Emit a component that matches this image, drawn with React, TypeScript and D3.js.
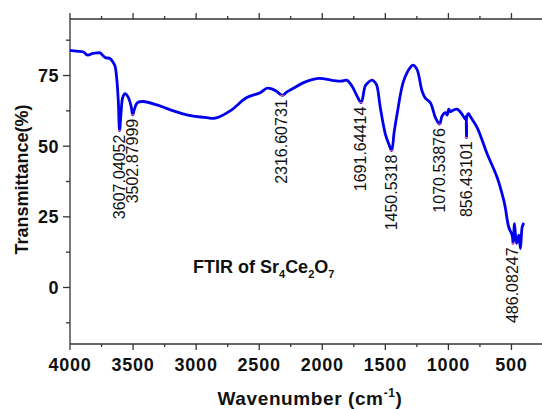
import { useMemo } from 'react';
import * as d3 from 'd3';

// spectrum (wavenumber cm-1, transmittance %)
const wavenumbers = [
  4000, 3950, 3897, 3860, 3820, 3786, 3762, 3722, 3683, 3660, 3643, 3630, 3617, 3607, 3595,
  3582, 3563, 3537, 3515, 3503, 3490, 3465, 3418, 3312, 3180, 3074, 2915, 2849, 2730, 2598,
  2492, 2439, 2400, 2365, 2317, 2280, 2228, 2148, 2029, 1923, 1850, 1804, 1765, 1725, 1692,
  1659, 1630, 1606, 1580, 1566, 1540, 1500, 1470, 1450, 1430, 1407, 1355, 1300, 1280, 1249,
  1209, 1183, 1143, 1103, 1070, 1050, 1024, 1010, 997, 985, 971, 931, 892, 865, 858,
  856, 854, 840, 825, 772, 693, 614, 561, 548, 522, 495, 486, 476, 460, 442,
  429, 415, 402,
];
const transmittance = [
  83.9, 83.6, 83.4, 82.2, 82.8, 83.0, 83.0, 81.4, 81.0, 79.8, 78.3, 74.2, 66.0, 55.5, 62.0,
  67.2, 68.6, 67.2, 64.0, 61.1, 63.0, 65.4, 65.8, 64.6, 62.5, 61.1, 60.1, 59.9, 62.5, 67.2,
  68.9, 70.5, 70.3, 69.5, 68.0, 69.2, 70.5, 72.5, 74.0, 73.3, 73.0, 73.3, 71.3, 67.8, 65.4,
  71.3, 72.8, 73.4, 72.5, 71.3, 63.7, 54.3, 50.5, 48.4, 55.0, 61.3, 73.1, 78.0, 78.7, 77.2,
  69.5, 67.0, 65.4, 60.1, 57.8, 60.7, 61.9, 61.0, 63.1, 62.2, 62.5, 63.1, 61.3, 59.5, 60.5,
  53.1, 60.5, 61.5, 60.4, 56.6, 47.3, 39.0, 30.8, 28.0, 21.4, 18.5, 15.6, 22.6, 15.6, 18.5,
  13.8, 21.4, 22.8,
];

// labelled peaks
const peakLabels = ['3607.04052', '3502.87999', '2316.60731', '1691.64414', '1450.5318', '1070.53876', '856.43101', '486.08247'];
const peakPositions = [3607, 3503, 2317, 1692, 1450, 1070, 856, 486];
const peakValues = [55.5, 61.1, 68.0, 65.4, 48.4, 57.8, 53.1, 15.6];

const xMajorTicks = [4000, 3500, 3000, 2500, 2000, 1500, 1000, 500];
const xMinorTicks = [3750, 3250, 2750, 2250, 1750, 1250, 750, 250];
const yMajorTicks = [0, 25, 50, 75];
const yMinorTicks = [-12.5, 12.5, 37.5, 62.5, 87.5];

const width = 542;
const height = 409;
const margin = { top: 19, left: 70, bottom: 65 };

const font = '"Liberation Sans", Arial, sans-serif';

const App = () => {
  const plotBottom = height - margin.bottom;

  const xScale = useMemo(() => d3.scaleLinear().domain([4000, 250]).range([margin.left, 543]), []);
  const yScale = useMemo(() => d3.scaleLinear().domain([-20, 95]).range([plotBottom, margin.top]), [plotBottom]);

  const points = wavenumbers.map((w, i) => [w, transmittance[i]] as [number, number]);
  const linePath = d3.line<[number, number]>()
    .x(d => xScale(d[0]))
    .y(d => yScale(d[1]))
    .curve(d3.curveCatmullRom.alpha(0.5))(points);

  const axisColor = '#333';

  return (
    <svg width={width} height={height} style={{ position: 'absolute', left: 0, top: 0 }}>
      <rect width={width} height={height} fill="#fff" />

      {/* top axis */}
      <line x1={margin.left} x2={width} y1={margin.top} y2={margin.top} stroke={axisColor} strokeWidth={1.3} />
      {xMajorTicks.map(t => (
        <line key={'tt' + t} x1={xScale(t)} x2={xScale(t)} y1={margin.top} y2={margin.top - 6} stroke={axisColor} strokeWidth={1.3} />
      ))}
      {xMinorTicks.map(t => (
        <line key={'tm' + t} x1={xScale(t)} x2={xScale(t)} y1={margin.top} y2={margin.top - 3} stroke={axisColor} strokeWidth={1.3} />
      ))}

      {/* bottom axis */}
      <line x1={margin.left} x2={width} y1={plotBottom} y2={plotBottom} stroke={axisColor} strokeWidth={1.3} />
      {xMajorTicks.map(t => (
        <g key={'bt' + t}>
          <line x1={xScale(t)} x2={xScale(t)} y1={plotBottom} y2={plotBottom + 6} stroke={axisColor} strokeWidth={1.3} />
          <text x={xScale(t)} y={plotBottom + 27} textAnchor="middle" fontFamily={font} fontWeight="bold" fontSize={18} letterSpacing={0.8} fill="#111">{t}</text>
        </g>
      ))}
      {xMinorTicks.map(t => (
        <line key={'bm' + t} x1={xScale(t)} x2={xScale(t)} y1={plotBottom} y2={plotBottom + 3} stroke={axisColor} strokeWidth={1.3} />
      ))}

      {/* left axis */}
      <line x1={margin.left} x2={margin.left} y1={margin.top} y2={plotBottom} stroke={axisColor} strokeWidth={1.3} />
      {yMajorTicks.map(t => (
        <g key={'yt' + t}>
          <line x1={margin.left} x2={margin.left - 7} y1={yScale(t)} y2={yScale(t)} stroke={axisColor} strokeWidth={1.3} />
          <text x={margin.left - 11} y={yScale(t) + 6.5} textAnchor="end" fontFamily={font} fontWeight="bold" fontSize={18} letterSpacing={0.5} fill="#111">{t}</text>
        </g>
      ))}
      {yMinorTicks.map(t => (
        <line key={'ym' + t} x1={margin.left} x2={margin.left - 4} y1={yScale(t)} y2={yScale(t)} stroke={axisColor} strokeWidth={1.3} />
      ))}

      {/* axis titles */}
      <text transform={`translate(28, ${(margin.top + plotBottom) / 2 - 2}) rotate(-90)`} textAnchor="middle" fontFamily={font} fontWeight="bold" fontSize={18} fill="#111">Transmittance(%)</text>
      <text x={310} y={405} textAnchor="middle" fontFamily={font} fontWeight="bold" fontSize={19} letterSpacing={0.6} fill="#111">
        Wavenumber (cm<tspan dy={-8} fontSize={12}>-1</tspan><tspan dy={8}>)</tspan>
      </text>

      {/* spectrum */}
      <path d={linePath ?? ''} fill="none" stroke="#0000ee" strokeWidth={2.8} strokeLinejoin="round" />

      {/* peak markers and labels */}
      {peakPositions.map((p, i) => (
        <g key={'pk' + i}>
          <line x1={xScale(p) - 2} x2={xScale(p) + 2} y1={yScale(peakValues[i])} y2={yScale(peakValues[i])} stroke="#ff6688" strokeWidth={1} />
          <text
            transform={`translate(${xScale(p) + 5}, ${yScale(peakValues[i]) + 4}) rotate(-90)`}
            textAnchor="end"
            fontFamily={font}
            fontSize={16}
            fill="#111"
          >
            {peakLabels[i]}
          </text>
        </g>
      ))}

      {/* inner title */}
      <text x={193} y={273} fontFamily={font} fontWeight="bold" fontSize={18} fill="#111">
        FTIR of Sr<tspan dy={5} fontSize={11}>4</tspan><tspan dy={-5}>Ce</tspan><tspan dy={5} fontSize={11}>2</tspan><tspan dy={-5}>O</tspan><tspan dy={5} fontSize={11}>7</tspan>
      </text>
    </svg>
  );
};

export default App;
